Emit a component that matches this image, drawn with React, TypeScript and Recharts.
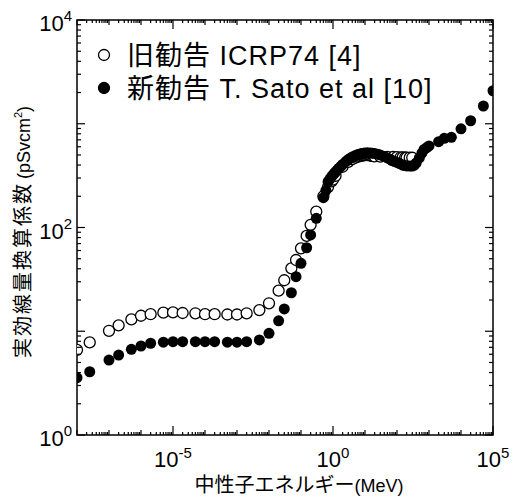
import React from "react";
import { ScatterChart, Scatter, XAxis, YAxis, Legend, ReferenceArea } from "recharts";

// 旧勧告 ICRP74 (open circles)
const oldEnergy = [
  1e-8, 2.5e-8, 1e-7, 2e-7, 5e-7, 1e-6, 2e-6, 5e-6, 1e-5, 2e-5, 5e-5, 1e-4, 2e-4, 5e-4,
  1e-3, 2e-3, 5e-3, 0.01, 0.02, 0.03, 0.05, 0.07, 0.1, 0.15, 0.2, 0.3, 0.5, 0.7, 0.9, 1,
  1.2, 2, 3, 4, 5, 6, 7, 8, 9, 10, 12, 14, 15, 16, 18, 20, 30, 50, 75, 100, 130, 150, 180,
  200, 250, 300,
];
const oldDose = [
  6.6, 7.8, 10.1, 11.4, 13.0, 14.1, 14.6, 15.1, 15.2, 15.0, 14.9, 14.6, 14.6, 14.5,
  14.5, 14.9, 16.0, 18.6, 24.6, 31.0, 40.4, 48.6, 63, 83, 106, 142, 200, 245, 278, 290,
  315, 385, 430, 455, 472, 482, 488, 493, 496, 498, 498, 496, 494, 492, 488, 484, 482, 480,
  478, 476, 475, 474, 473, 472, 471, 470,
];

// 新勧告 T. Sato et al (filled circles)
const newEnergy = [
  1e-8, 2.5e-8, 1e-7, 2e-7, 5e-7, 1e-6, 2e-6, 5e-6, 1e-5, 2e-5, 5e-5, 1e-4, 2e-4, 5e-4,
  1e-3, 2e-3, 5e-3, 0.01, 0.02, 0.03, 0.05, 0.07, 0.1, 0.15, 0.2, 0.3, 0.5, 0.6, 0.7, 0.8,
  0.9, 1, 1.1, 1.2, 1.35, 1.5, 1.75, 2, 2.5, 3, 3.5, 4, 5, 6, 7, 8, 9, 10, 12, 15, 17, 20,
  25, 30, 40, 50, 60, 70, 85, 100, 120, 150, 175, 200, 250, 300, 350, 400, 500, 600, 700,
  850, 1000, 2000, 3000, 5000, 1e4, 2e4, 5e4, 1e5,
];
const newDose = [
  3.57, 4.07, 5.28, 5.9, 6.7, 7.21, 7.66, 7.84, 7.93, 7.93, 7.93, 7.93, 7.93, 7.84,
  7.84, 7.93, 8.24, 9.55, 12.6, 16.4, 23.5, 33.6, 45.2, 63.8, 84.7, 122.7, 194, 228, 276, 293,
  310, 321, 332, 343, 357, 371, 388, 405, 432, 452, 466, 478, 495, 506, 511, 517, 520, 522, 525, 522, 520, 517,
  509, 500, 483, 468, 455, 442, 432, 424, 414, 400, 396, 392, 391, 391, 400, 420, 470, 520, 565,
  590, 611, 671, 724, 740, 893, 1069, 1483, 2080,
];

const oldSeries = oldEnergy.map((e, i) => ({ e, v: oldDose[i] }));
const newSeries = newEnergy.map((e, i) => ({ e, v: newDose[i] }));

const OLD_NAME = "旧勧告 ICRP74 [4]";
const NEW_NAME = "新勧告 T. Sato et al [10]";
const legendOrder = [OLD_NAME, NEW_NAME];

const xDecades = [-8, -7, -6, -5, -4, -3, -2, -1, 0, 1, 2, 3, 4, 5];
const yDecades = [0, 1, 2, 3, 4];
const mantissas = [1, 2, 3, 4, 5, 6, 7, 8, 9];
const xLabelExps = [-5, 0, 5];
const yLabelExps = [0, 2, 4];

const xTicks = xDecades.flatMap((d) => (d === 5 ? [1e5] : mantissas.map((m) => m * Math.pow(10, d))));
const yTicks = yDecades.flatMap((d) => (d === 4 ? [1e4] : mantissas.map((m) => m * Math.pow(10, d))));

const W = 519;
const H = 497;
const PLOT_LEFT = 77;
const PLOT_TOP = 20;
const PLOT_RIGHT = 493;
const PLOT_BOTTOM = 435;
const FONT = "'Liberation Sans', Arial, 'Noto Sans CJK JP', sans-serif";
const R = 5.5;

function tickInfo(v: number) {
  const exp = Math.round(Math.log10(v));
  const isDecade = Math.abs(v - Math.pow(10, exp)) < Math.pow(10, exp) * 1e-6;
  return { exp, isDecade };
}

function XTick(props: any) {
  const { x, payload } = props;
  const { exp, isDecade } = tickInfo(payload.value);
  const labeled = isDecade && xLabelExps.includes(exp);
  const len = labeled ? 9 : isDecade ? 5 : 3;
  return (
    <g>
      <line x1={x} x2={x} y1={PLOT_BOTTOM} y2={PLOT_BOTTOM - len} stroke="#000" strokeWidth={1.2} />
      <line x1={x} x2={x} y1={PLOT_TOP} y2={PLOT_TOP + len} stroke="#000" strokeWidth={1.2} />
      {labeled && (
        <text x={x} y={PLOT_BOTTOM + 32} textAnchor="middle" fontSize={22} fontFamily={FONT} fill="#000">
          10
          <tspan dy={-9} fontSize={15}>{exp}</tspan>
        </text>
      )}
    </g>
  );
}

function YTick(props: any) {
  const { y, payload } = props;
  const { exp, isDecade } = tickInfo(payload.value);
  const labeled = isDecade && yLabelExps.includes(exp);
  const len = isDecade ? 8 : 4;
  return (
    <g>
      <line x1={PLOT_LEFT} x2={PLOT_LEFT + len} y1={y} y2={y} stroke="#000" strokeWidth={1.2} />
      <line x1={PLOT_RIGHT} x2={PLOT_RIGHT - len} y1={y} y2={y} stroke="#000" strokeWidth={1.2} />
      {labeled && (
        <text x={PLOT_LEFT - 5} y={y + 11} textAnchor="end" fontSize={22} fontFamily={FONT} fill="#000">
          10
          <tspan dy={-10} fontSize={15}>{exp}</tspan>
        </text>
      )}
    </g>
  );
}

const OpenDot = (p: any) => <circle cx={p.cx} cy={p.cy} r={R} fill="#fff" stroke="#000" strokeWidth={1.3} />;
const FilledDot = (p: any) => <circle cx={p.cx} cy={p.cy} r={R} fill="#000" />;

function LegendBox(props: any) {
  const items = (props.payload || [])
    .slice()
    .sort((a: any, b: any) => legendOrder.indexOf(a.value) - legendOrder.indexOf(b.value));
  return (
    <svg width={W} height={110}>
      {items.map((it: any, i: number) => (
        <g key={it.value}>
          <circle
            cx={104}
            cy={55 + i * 33}
            r={R}
            fill={it.value === OLD_NAME ? "#fff" : "#000"}
            stroke="#000"
            strokeWidth={1.3}
          />
          <text x={127} y={65 + i * 33} fontSize={27} letterSpacing={1} fontFamily={FONT} fill="#000">
            {it.value}
          </text>
        </g>
      ))}
    </svg>
  );
}

function YTitle() {
  return (
    <text transform="translate(30,232) rotate(-90)" x={0} y={0} textAnchor="middle" fontFamily={FONT} fill="#000">
      <tspan fontSize={20} letterSpacing={2} fill="#000">実効線量換算係数</tspan>
      <tspan fontSize={18} dx={3} fill="#000">(pSvcm</tspan>
      <tspan fontSize={11} dy={-8} fill="#000">2</tspan>
      <tspan fontSize={18} dy={8} fill="#000">)</tspan>
    </text>
  );
}

function XTitle() {
  return (
    <text x={299} y={492} textAnchor="middle" fontFamily={FONT} fill="#000">
      <tspan fontSize={20} fill="#000">中性子エネルギー</tspan>
      <tspan fontSize={18} fill="#000">(MeV)</tspan>
    </text>
  );
}

export default function App() {
  return (
    <div style={{ position: "absolute", left: 0, top: 0, width: W, height: H, background: "#fff" }}>
      <ScatterChart width={W} height={H} margin={{ top: PLOT_TOP, right: W - PLOT_RIGHT, bottom: 0, left: 0 }}>
        <XAxis
          dataKey="e"
          type="number"
          scale="log"
          domain={[1e-8, 1e5]}
          allowDataOverflow
          ticks={xTicks}
          interval={0}
          tick={<XTick />}
          tickLine={false}
          axisLine={false}
          height={H - PLOT_BOTTOM}
          label={<XTitle />}
        />
        <YAxis
          dataKey="v"
          type="number"
          scale="log"
          domain={[1, 1e4]}
          allowDataOverflow
          ticks={yTicks}
          interval={0}
          tick={<YTick />}
          tickLine={false}
          axisLine={false}
          width={PLOT_LEFT}
          label={<YTitle />}
        />
        <ReferenceArea x1={1e-8} x2={1e5} y1={1} y2={1e4} fill="none" stroke="#000" strokeWidth={1.5} ifOverflow="visible" />
        <Legend
          verticalAlign="middle"
          align="center"
          layout="horizontal"
          wrapperStyle={{ top: 0, left: 0, width: W, height: 110 }}
          content={<LegendBox />}
        />
        <Scatter name={OLD_NAME} data={oldSeries} shape={OpenDot} fill="#fff" isAnimationActive={false} />
        <Scatter name={NEW_NAME} data={newSeries} shape={FilledDot} fill="#000" isAnimationActive={false} />
      </ScatterChart>
    </div>
  );
}
